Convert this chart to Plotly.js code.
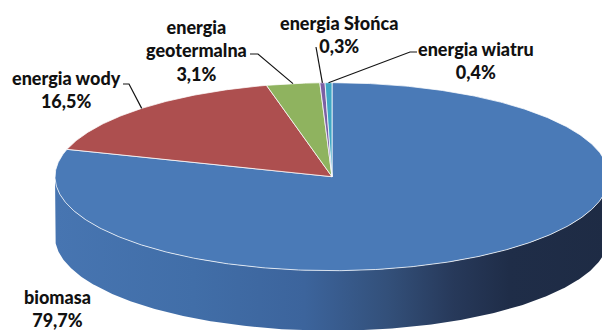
<!DOCTYPE html>
<html>
<head>
<meta charset="utf-8">
<script src="https://cdn.plot.ly/plotly-3.0.1.min.js"></script>
<style>html,body{margin:0;padding:0;background:#fff;}#chart{width:602px;height:330px;}</style>
</head>
<body>
<div id="chart"></div>
<script>
// ---- data ----
const categories = ["biomasa", "energia wody", "energia geotermalna", "energia Słońca", "energia wiatru"];
const values = [79.7, 16.5, 3.1, 0.3, 0.4];
const valueLabels = ["79,7%", "16,5%", "3,1%", "0,3%", "0,4%"];

// ---- style ----
const colors = ["#4a7ab7", "#ad4f4f", "#8fb35f", "#7b5fa3", "#3ea7c5"];
const sideScale = [[0, "#4775b1"], [0.25, "#416ea8"], [0.45, "#3c649c"], [0.6, "#33507a"], [0.72, "#27395a"], [0.82, "#1f2d48"], [1, "#1e2b44"]];
const geo = {cx: 332, cy: 176.7, a: 277, b: 94, depth: 60};

function pt(deg, dy) {
  const r = deg * Math.PI / 180;
  return [geo.cx + geo.a * Math.sin(r), geo.cy - geo.b * Math.cos(r) + (dy || 0)];
}
function arc(d0, d1, dy) {
  const n = Math.max(2, Math.ceil(Math.abs(d1 - d0) * 2));
  const xs = [], ys = [];
  for (let i = 0; i <= n; i++) {
    const p = pt(d0 + (d1 - d0) * i / n, dy);
    xs.push(p[0]); ys.push(p[1]);
  }
  return [xs, ys];
}

const total = values.reduce((s, v) => s + v, 0);
const starts = [], ends = [];
let acc = 0;
values.forEach(v => { starts.push(acc / total * 360); acc += v; ends.push(acc / total * 360); });

const traces = [];
// side walls (front half visible: 90..270 degrees clockwise from top)
values.forEach((v, i) => {
  const s = Math.max(starts[i], 90), e = Math.min(ends[i], 270);
  if (e <= s) return;
  const top = arc(s, e, 0), bot = arc(e, s, geo.depth);
  traces.push({
    type: "scatter", mode: "lines", fill: "toself",
    x: top[0].concat(bot[0]), y: top[1].concat(bot[1]),
    line: {width: 0, color: "rgba(0,0,0,0)"},
    fillgradient: {type: "horizontal", colorscale: sideScale, start: geo.cx - geo.a, stop: geo.cx + geo.a},
    hoverinfo: "skip", showlegend: false
  });
});
// top faces
values.forEach((v, i) => {
  const a = arc(starts[i], ends[i], 0);
  traces.push({
    type: "scatter", mode: "lines", fill: "toself",
    x: [geo.cx].concat(a[0], [geo.cx]), y: [geo.cy].concat(a[1], [geo.cy]),
    fillcolor: colors[i],
    line: {width: 1, color: "rgba(255,255,255,0.75)"},
    hoverinfo: "skip", showlegend: false, name: categories[i]
  });
});

// labels (layout positions)
const labelText = [
  "biomasa<br>" + valueLabels[0],
  "energia wody<br>" + valueLabels[1],
  "energia<br>geotermalna<br>" + valueLabels[2],
  "energia Słońca<br>" + valueLabels[3],
  "energia wiatru<br>" + valueLabels[4]
];
const labelPos = [[57, 308], [66, 89], [196, 50], [339, 34], [476, 60]];
const leaderFrom = [null, [[123, 84], [129, 84]], [[250, 54], [258, 54]], [[316, 47]], [[417, 52], [410, 52]]];

const annotations = labelText.map((t, i) => ({
  text: t, x: labelPos[i][0], y: labelPos[i][1], xref: "x", yref: "y",
  xanchor: "center", yanchor: "middle", showarrow: false, align: "center",
  font: {family: "Lato, 'Open Sans', sans-serif", size: 18, color: "#111111", weight: 900}
}));
const shapes = [];
leaderFrom.forEach((pts, i) => {
  if (!pts) return;
  const mid = pt((starts[i] + ends[i]) / 2, 0);
  const all = pts.concat([mid]);
  shapes.push({
    type: "path", xref: "x", yref: "y",
    path: all.map((p, k) => (k ? "L" : "M") + p[0].toFixed(1) + "," + p[1].toFixed(1)).join(" "),
    line: {color: "#141414", width: 1.2}
  });
});

Plotly.newPlot("chart", traces, {
  width: 602, height: 330,
  margin: {l: 0, r: 0, t: 0, b: 0},
  paper_bgcolor: "#ffffff", plot_bgcolor: "#ffffff",
  xaxis: {range: [0, 602], visible: false, fixedrange: true},
  yaxis: {range: [330, 0], visible: false, fixedrange: true},
  showlegend: false,
  annotations: annotations, shapes: shapes
}, {staticPlot: true});
</script>
</body>
</html>
